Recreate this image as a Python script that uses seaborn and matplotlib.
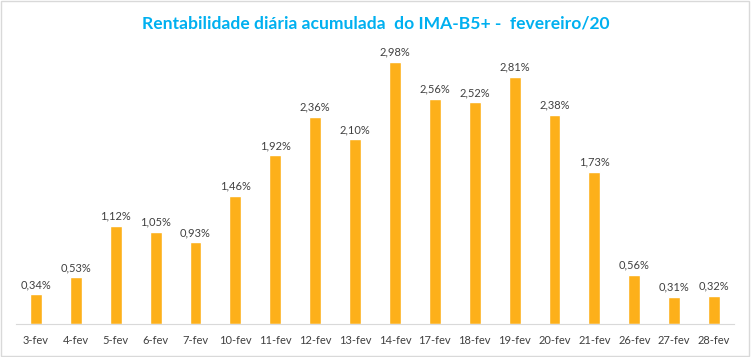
import matplotlib
matplotlib.use("Agg")
import matplotlib.pyplot as plt
import seaborn as sns
import pandas as pd
import numpy as np
from matplotlib.patches import Rectangle

# dados
dias = ["3-fev", "4-fev", "5-fev", "6-fev", "7-fev", "10-fev", "11-fev", "12-fev", "13-fev",
        "14-fev", "17-fev", "18-fev", "19-fev", "20-fev", "21-fev", "26-fev", "27-fev", "28-fev"]
rentab = [0.34, 0.53, 1.12, 1.05, 0.93, 1.46, 1.92, 2.36, 2.10,
          2.98, 2.56, 2.52, 2.81, 2.38, 1.73, 0.56, 0.31, 0.32]

df = pd.DataFrame({"dia": dias, "rentab": rentab})

sns.set_style("white")
plt.rcParams['font.family'] = ['Lato', 'DejaVu Sans']

fig = plt.figure(figsize=(7.51, 3.57), dpi=100)
ax = fig.add_axes([16 / 751, 33 / 357, 718 / 751, 284 / 357])

sns.barplot(data=df, x="dia", y="rentab", color="#FDB01A", saturation=1, width=0.3, ax=ax)

rotulos = [f"{v:.2f}".replace(".", ",") + "%" for v in rentab]
ax.bar_label(ax.containers[0], labels=rotulos, padding=3, fontsize=8, color="#404040")

ax.set_ylim(0, 2.98 * 284 / 262)
ax.set_xlim(-0.5, len(dias) - 0.5)
ax.set_xlabel("")
ax.set_ylabel("")
ax.set_yticks([])
for s in ["top", "right", "left"]:
    ax.spines[s].set_visible(False)
ax.spines["bottom"].set_color("#D9D9D9")
ax.tick_params(axis="x", which="major", length=0, labelsize=8, labelcolor="#404040", pad=8)
ax.set_xticks(np.arange(-0.5, len(dias), 1), minor=True)
ax.tick_params(axis="x", which="minor", length=4, color="#D9D9D9")

fig.text(0.5, 0.935, "Rentabilidade diária acumulada  do IMA-B5+ -  fevereiro/20",
         ha="center", va="center", fontsize=12.6, fontweight="bold", color="#00B0F0")

fig.patches.append(Rectangle((0.001, 0.002), 0.997, 0.995, transform=fig.transFigure,
                             fill=False, edgecolor="#D9D9D9", linewidth=1))

fig.savefig("out.png", dpi=100)
